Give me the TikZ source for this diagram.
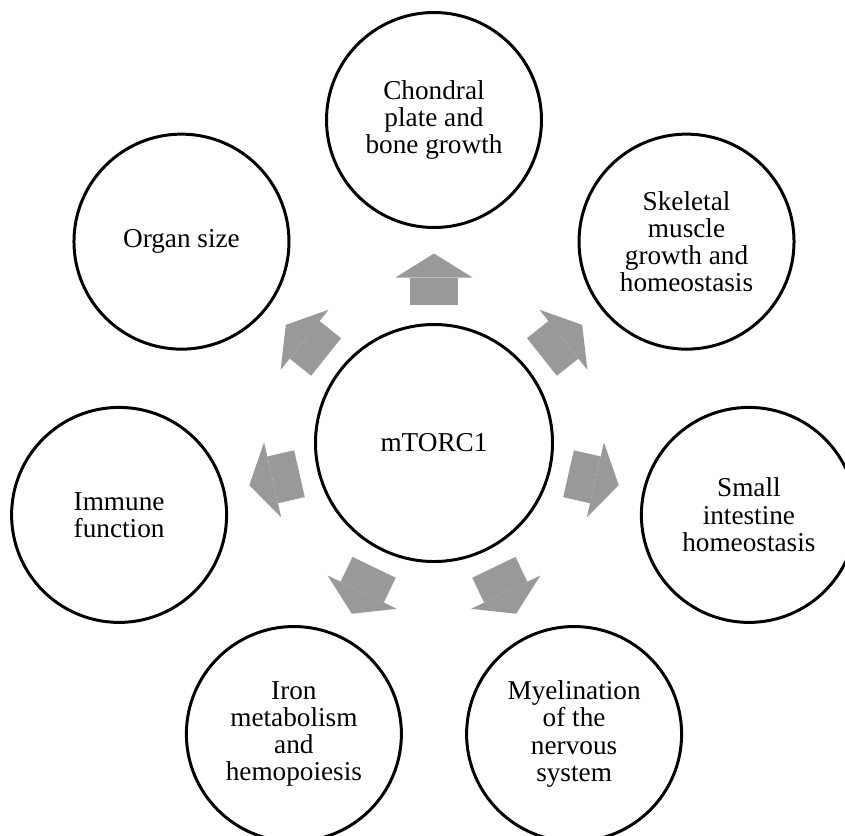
\documentclass[tikz,border=0pt]{standalone}
\usepackage{fontspec}
\setmainfont{Liberation Serif}
\usetikzlibrary{arrows.meta}
\definecolor{arrowgray}{RGB}{153,153,153}

\begin{document}
\begin{tikzpicture}[
    font=\fontsize{15.5}{15.5}\selectfont,
    % Styles
    hub/.style={
        draw,
        circle,
        line width=1.7pt,
        minimum size=4.74cm,
        align=center
    },
    effect/.style={
        draw,
        circle,
        line width=1.7pt,
        minimum size=4.3cm,
        align=center
    },
    push/.style={
        draw=arrowgray,
        line width=0.96cm,
        -{Triangle[width=1.54cm, length=0.48cm, line width=0pt]},
        shorten <=0.36cm,
        shorten >=0.49cm
    }
]
    \useasboundingbox (-8.68,-7.84) rectangle (8.22,8.86);

    % --- CENTRE ---
    \node[hub] (mtor) at (0,0) {mTORC1};

    % --- EFFECTS (ring) ---
    \node[effect] (bone) at (90:6.46) {Chondral\\plate and\\bone growth};
    \node[effect] (muscle) at (38.57:6.46) {Skeletal\\muscle\\growth and\\homeostasis};
    \node[effect] (intestine) at (-12.86:6.46) {Small\\intestine\\homeostasis};
    \node[effect] (myelin) at (-64.29:6.46) {Myelination\\of the\\nervous\\system};
    \node[effect] (iron) at (-115.71:6.46) {Iron\\metabolism\\and\\hemopoiesis};
    \node[effect] (immune) at (-167.14:6.46) {Immune\\function};
    \node[effect] (organ) at (141.43:6.46) {Organ size};

    % --- ARROWS ---
    \draw[push] (mtor) -- (bone);
    \draw[push] (mtor) -- (muscle);
    \draw[push] (mtor) -- (intestine);
    \draw[push] (mtor) -- (myelin);
    \draw[push] (mtor) -- (iron);
    \draw[push] (mtor) -- (immune);
    \draw[push] (mtor) -- (organ);

\end{tikzpicture}
\end{document}
